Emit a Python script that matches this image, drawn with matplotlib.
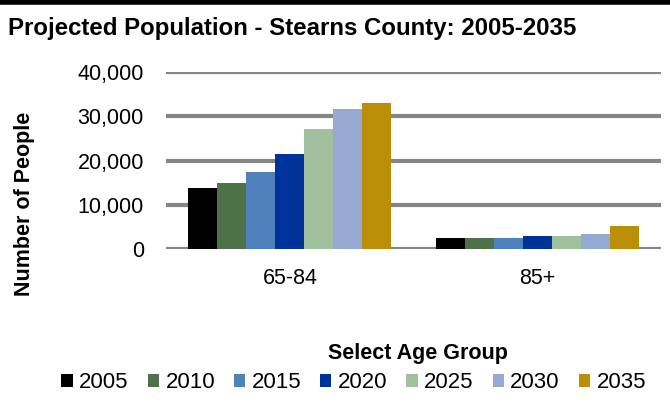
import numpy as np
import matplotlib.pyplot as plt

plt.rcParams['font.family'] = ['Liberation Sans', 'DejaVu Sans']

groups = ['65-84', '85+']
years = ['2005', '2010', '2015', '2020', '2025', '2030', '2035']
values = {
    '2005': [13900, 2400],
    '2010': [14850, 2400],
    '2015': [17500, 2400],
    '2020': [21500, 2900],
    '2025': [27100, 2900],
    '2030': [31600, 3400],
    '2035': [32950, 5200],
}
colors = ['#000000', '#4F7149', '#4F81BD', '#003399', '#A0C09E', '#95A9D3', '#BA8E06']

fig = plt.figure(figsize=(6.7, 4.03), dpi=100)
ax = fig.add_axes([0.248, 0.382, 0.739, 0.439])

x = np.arange(len(groups))
width = 0.82 / len(years)
for i, yr in enumerate(years):
    ax.bar(x - 0.41 + width * (i + 0.5), values[yr], width, color=colors[i], label=yr, zorder=3)

ax.set_xlim(-0.5, 1.5)
ax.set_ylim(0, 40000)
ax.set_yticks(range(0, 40001, 10000))
ax.set_yticklabels(['0', '10,000', '20,000', '30,000', '40,000'])
ax.set_xticks(x)
ax.set_xticklabels(groups)
ax.tick_params(length=0, labelsize=15.5)
ax.tick_params(axis='y', pad=16)
ax.tick_params(axis='x', pad=14)
ax.grid(axis='y', color='#868686', linewidth=3, zorder=0)
for s in ax.spines.values():
    s.set_visible(False)

fig.text(0.012, 0.913, 'Projected Population - Stearns County: 2005-2035',
         fontsize=17.3, fontweight='bold', va='baseline')
fig.text(0.036, 0.495, 'Number of People', rotation=90, fontsize=15.5,
         fontweight='bold', ha='center', va='center')
fig.text(0.624, 0.124, 'Select Age Group', fontsize=15.5, fontweight='bold',
         ha='center', va='center')

fig.legend(loc='center', bbox_to_anchor=(0.528, 0.05), ncol=7, frameon=False,
           fontsize=16, handlelength=0.5, handleheight=0.5, handletextpad=0.3,
           columnspacing=0.85, borderpad=0)

fig.add_artist(plt.Line2D([0, 1], [0.995, 0.995], color='black', linewidth=4,
                          transform=fig.transFigure))

fig.savefig('out.png', dpi=100)
